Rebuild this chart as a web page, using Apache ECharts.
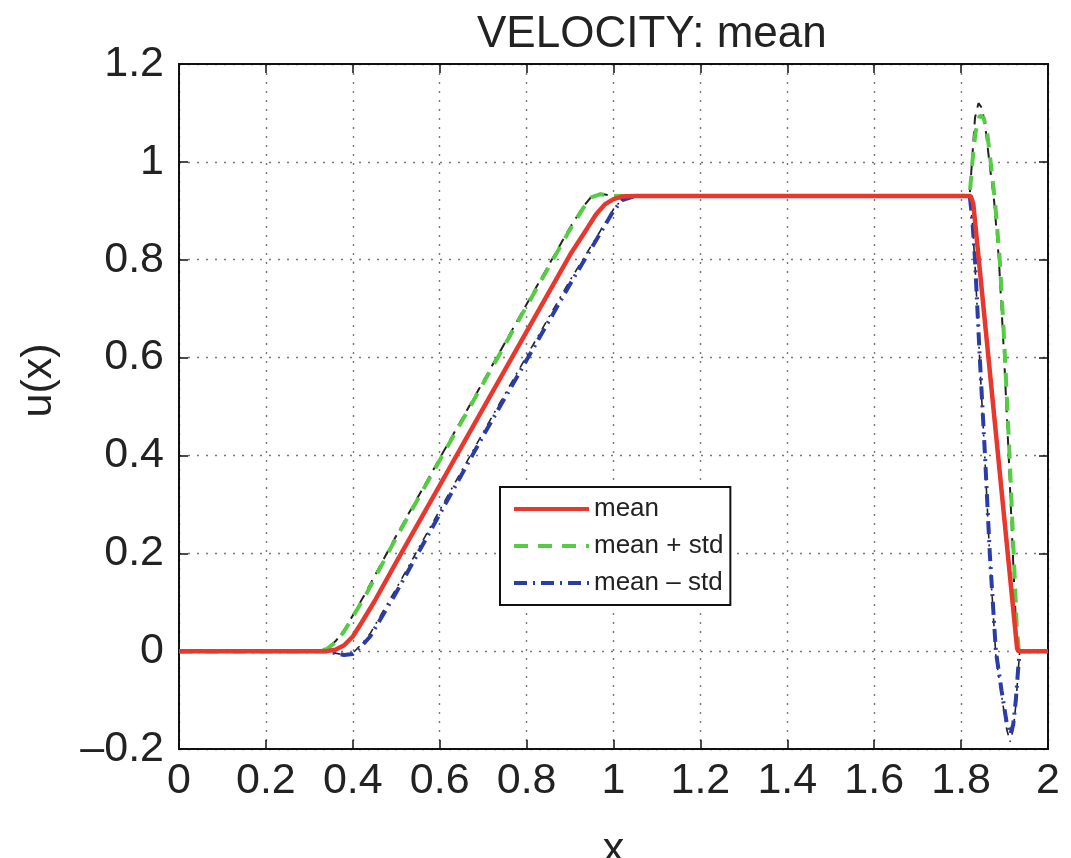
<!DOCTYPE html>
<html>
<head>
<meta charset="utf-8">
<script src="https://cdn.jsdelivr.net/npm/echarts@6/dist/echarts.min.js"></script>
<style>html,body{margin:0;padding:0;background:#fff}#chart{width:1071px;height:858px}</style>
</head>
<body>
<div id="chart"></div>
<script>
// ---- data ----
const titleText = 'VELOCITY: mean';
const xTicks = [0, 0.2, 0.4, 0.6, 0.8, 1, 1.2, 1.4, 1.6, 1.8, 2];
const yTicks = [-0.2, 0, 0.2, 0.4, 0.6, 0.8, 1, 1.2];

const meanX = [0, 0.34, 0.36, 0.38, 0.40, 0.42, 0.45, 0.5, 0.6, 0.7, 0.8, 0.9, 0.94, 0.96, 0.98, 1.0, 1.02, 1.05, 1.4, 1.8, 1.822, 1.828, 1.929, 1.933, 2.0];
const meanY = [0, 0, 0.003, 0.012, 0.03, 0.058, 0.102, 0.182, 0.339, 0.496, 0.653, 0.81, 0.865, 0.893, 0.913, 0.924, 0.929, 0.93, 0.93, 0.93, 0.93, 0.915, 0.005, 0, 0];

const plusX = [0, 0.32, 0.34, 0.36, 0.38, 0.40, 0.43, 0.5, 0.6, 0.7, 0.8, 0.9, 0.93, 0.95, 0.97, 1.0, 1.05, 1.4, 1.8, 1.82, 1.826, 1.833, 1.843, 1.852, 1.86, 1.868, 1.878, 1.889, 1.9, 1.911, 1.921, 1.928, 1.933, 2.0];
const plusY = [0, 0, 0.004, 0.018, 0.04, 0.07, 0.115, 0.232, 0.39, 0.547, 0.705, 0.862, 0.905, 0.928, 0.934, 0.93, 0.93, 0.93, 0.93, 0.935, 1.0, 1.06, 1.095, 1.09, 1.06, 1.0, 0.92, 0.8, 0.62, 0.41, 0.2, 0.05, 0, 0];

const minusX = [0, 0.34, 0.36, 0.38, 0.40, 0.42, 0.44, 0.47, 0.5, 0.6, 0.7, 0.8, 0.9, 0.95, 0.98, 1.0, 1.02, 1.05, 1.4, 1.8, 1.82, 1.826, 1.832, 1.843, 1.855, 1.866, 1.88, 1.893, 1.905, 1.913, 1.92, 1.926, 1.931, 1.935, 2.0];
const minusY = [0, 0, -0.004, -0.008, -0.006, 0.01, 0.03, 0.075, 0.12, 0.28, 0.44, 0.595, 0.75, 0.825, 0.87, 0.9, 0.922, 0.93, 0.93, 0.93, 0.93, 0.88, 0.8, 0.6, 0.4, 0.2, 0.0, -0.08, -0.147, -0.17, -0.15, -0.1, -0.04, 0, 0];

const blackHiX = [0, 0.32, 0.34, 0.36, 0.38, 0.40, 0.43, 0.5, 0.6, 0.7, 0.8, 0.9, 0.93, 0.95, 0.97, 1.0, 1.4, 1.8, 1.82, 1.825, 1.832, 1.84, 1.848, 1.856, 1.865, 1.876, 1.887, 1.898, 1.909, 1.919, 1.927, 1.932, 2.0];
const blackHiY = [0, 0, 0.005, 0.02, 0.043, 0.073, 0.12, 0.236, 0.394, 0.551, 0.709, 0.866, 0.908, 0.93, 0.935, 0.93, 0.93, 0.93, 0.935, 1.0, 1.09, 1.12, 1.11, 1.07, 1.0, 0.92, 0.8, 0.62, 0.41, 0.2, 0.04, 0, 0];

const blackLoX = [0, 0.34, 0.36, 0.38, 0.40, 0.42, 0.44, 0.47, 0.5, 0.6, 0.7, 0.8, 0.9, 0.95, 0.98, 1.0, 1.02, 1.05, 1.4, 1.8, 1.82, 1.826, 1.832, 1.843, 1.855, 1.866, 1.88, 1.893, 1.905, 1.913, 1.92, 1.926, 1.931, 1.935, 2.0];
const blackLoY = [0, 0, -0.004, -0.008, -0.004, 0.014, 0.036, 0.082, 0.128, 0.288, 0.447, 0.603, 0.758, 0.83, 0.874, 0.903, 0.924, 0.93, 0.93, 0.93, 0.93, 0.875, 0.79, 0.59, 0.39, 0.19, -0.01, -0.09, -0.16, -0.185, -0.16, -0.11, -0.045, 0, 0];

const seriesNames = ['mean', 'mean + std', 'mean \u2013 std'];

const pairs = (xs, ys) => xs.map((x, i) => [x, ys[i]]);
const FONT = 'Liberation Sans, Arial, Helvetica, sans-serif';

const chart = echarts.init(document.getElementById('chart'), null, {renderer: 'canvas'});
const fmt = v => {
  const r = Math.round(v * 10) / 10;
  if (Math.abs(r) < 1e-9) return '0';
  return r < 0 ? '\u2013' + String(-r) : String(r);
};
const tickAxisCommon = {
  axisTick: {show: true, inside: true, length: 9, lineStyle: {color: '#111', width: 1.5}},
  axisLine: {show: true, onZero: false, lineStyle: {color: '#111', width: 2}},
};
const gridLine = {show: true, lineStyle: {color: '#777', type: [2, 7], width: 1.4}};
chart.setOption({
  animation: false,
  backgroundColor: '#ffffff',
  title: {
    text: titleText, left: 477, top: 13, padding: 0,
    textStyle: {fontFamily: FONT, fontSize: 44, fontWeight: 'normal', color: '#222'}
  },
  grid: {left: 179, right: 23, top: 64, bottom: 109, show: true, borderColor: '#111', borderWidth: 2,
         containLabel: false, outerBoundsMode: 'none'},
  legend: {
    data: seriesNames,
    orient: 'vertical', left: 500, top: 487,
    padding: [8, 7, 8, 12],
    itemWidth: 75, itemHeight: 28, itemGap: 9,
    itemStyle: {opacity: 0, borderWidth: 0},
    lineStyle: {width: 4},
    borderColor: '#111', borderWidth: 2, backgroundColor: '#fff',
    textStyle: {fontFamily: FONT, fontSize: 26, lineHeight: 28, color: '#222'}
  },
  xAxis: [{
    type: 'value', min: 0, max: 2, interval: 0.2, position: 'bottom',
    name: 'x', nameLocation: 'middle', nameGap: 80,
    nameTextStyle: {fontFamily: FONT, fontSize: 43, color: '#222'},
    axisLabel: {fontFamily: FONT, fontSize: 43, color: '#222', margin: 11, formatter: fmt},
    splitLine: gridLine,
    ...tickAxisCommon
  }, {
    type: 'value', min: 0, max: 2, interval: 0.2, position: 'top',
    axisLabel: {show: false}, splitLine: {show: false},
    ...tickAxisCommon
  }],
  yAxis: [{
    type: 'value', min: -0.2, max: 1.2, interval: 0.2, position: 'left',
    name: 'u(x)', nameLocation: 'middle', nameGap: 118, nameRotate: 90,
    nameTextStyle: {fontFamily: FONT, fontSize: 43, color: '#222', padding: [0, 0, 0, 52]},
    axisLabel: {fontFamily: FONT, fontSize: 43, color: '#222', margin: 15, formatter: fmt},
    splitLine: gridLine,
    ...tickAxisCommon
  }, {
    type: 'value', min: -0.2, max: 1.2, interval: 0.2, position: 'right',
    axisLabel: {show: false}, splitLine: {show: false},
    ...tickAxisCommon
  }],
  series: [
    {name: 'upper sample', type: 'line', data: pairs(blackHiX, blackHiY), symbol: 'none', silent: true,
     lineStyle: {color: '#222', width: 2, type: [10, 7]}, z: 1},
    {name: 'lower sample', type: 'line', data: pairs(blackLoX, blackLoY), symbol: 'none', silent: true,
     lineStyle: {color: '#222', width: 1.6, type: [8, 6, 2, 6]}, z: 1},
    {name: seriesNames[1], type: 'line', data: pairs(plusX, plusY), symbol: 'none',
     lineStyle: {color: '#55cc44', width: 4, type: [14, 10]}, itemStyle: {color: '#55cc44'}, z: 2},
    {name: seriesNames[2], type: 'line', data: pairs(minusX, minusY), symbol: 'none',
     lineStyle: {color: '#2a3ca6', width: 4, type: [13, 6, 2, 6]}, itemStyle: {color: '#2a3ca6'}, z: 3},
    {name: seriesNames[0], type: 'line', data: pairs(meanX, meanY), symbol: 'none',
     lineStyle: {color: '#e8372c', width: 4.5}, itemStyle: {color: '#e8372c'}, z: 4}
  ]
});
</script>
</body>
</html>
